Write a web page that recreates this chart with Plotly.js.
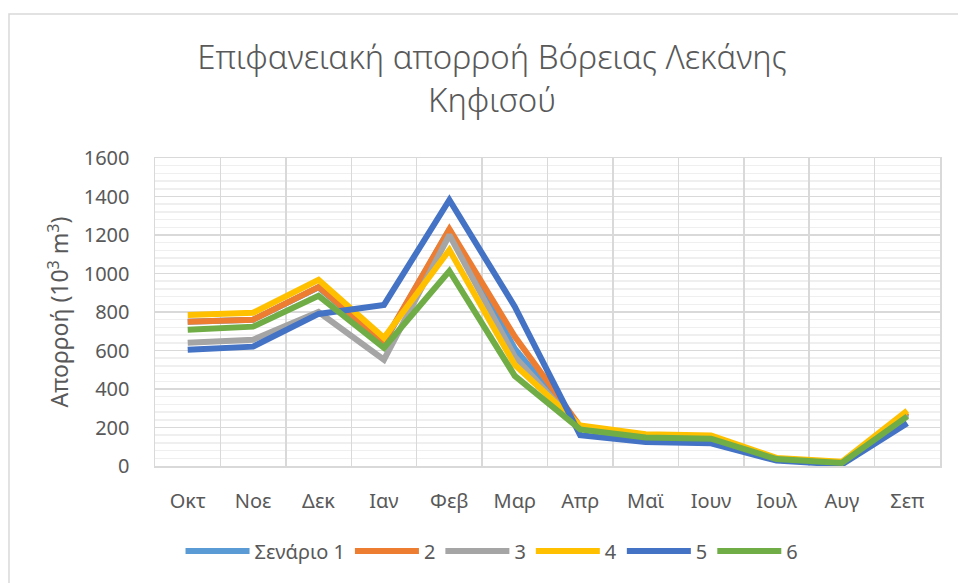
<!DOCTYPE html>
<html>
<head>
<meta charset="utf-8">
<script src="https://cdn.plot.ly/plotly-3.0.1.min.js"></script>
<style>html,body{margin:0;padding:0;background:#fff;}#chart{width:958px;height:583px;}</style>
</head>
<body>
<div id="chart"></div>
<script>
var months = ["Οκτ","Νοε","Δεκ","Ιαν","Φεβ","Μαρ","Απρ","Μαϊ","Ιουν","Ιουλ","Αυγ","Σεπ"];
var seriesNames = ["Σενάριο 1","2","3","4","5","6"];
var s1 = [750, 760, 928, 642, 1228, 610, 200, 156, 148, 36, 16, 272];
var s2 = [750, 760, 930, 645, 1231, 672, 205, 160, 152, 38, 18, 278];
var s3 = [640, 656, 800, 552, 1200, 568, 195, 152, 145, 35, 16, 265];
var s4 = [785, 796, 967, 666, 1122, 526, 210, 165, 158, 42, 22, 288];
var s5 = [604, 620, 790, 837, 1382, 828, 160, 125, 118, 28, 8, 222];
var s6 = [708, 724, 884, 614, 1013, 468, 190, 148, 142, 36, 16, 258];
var seriesValues = [s1, s2, s3, s4, s5, s6];
var colors = ["#5B9BD5","#ED7D31","#A5A5A5","#FFC000","#4472C4","#70AD47"];

var FONT = "Noto Sans, sans-serif";
var TXT = "#595959";

var traces = seriesValues.map(function(v, i){
  return {
    type: "scatter", mode: "lines", x: months, y: v, name: seriesNames[i],
    line: {color: colors[i], width: 6},
    hoverinfo: "skip"
  };
});

var layout = {
  width: 958, height: 583,
  margin: {l: 155, r: 18, t: 158, b: 117},
  paper_bgcolor: "#ffffff", plot_bgcolor: "#ffffff",
  font: {family: FONT, color: TXT, size: 20},
  title: {
    text: "Επιφανειακή απορροή Βόρειας Λεκάνης<br>Κηφισού",
    font: {family: FONT, size: 33, color: TXT, weight: 300},
    xref: "container", x: 0.5136, xanchor: "center",
    yref: "container", y: 0.882, yanchor: "middle"
  },
  xaxis: {
    type: "category", tickson: "boundaries", range: [-0.5, 11.5],
    showgrid: true, gridcolor: "#d9d9d9", gridwidth: 1.5,
    showline: true, linecolor: "#d9d9d9", linewidth: 1.5, mirror: true,
    ticks: "", ticklabelstandoff: 16,
    tickfont: {family: FONT, size: 20, color: TXT},
    fixedrange: true
  },
  yaxis: {
    range: [0, 1600], dtick: 200, tick0: 0,
    showgrid: true, gridcolor: "#d9d9d9", gridwidth: 1.5,
    minor: {dtick: 40, showgrid: true, gridcolor: "#efefef", gridwidth: 1.5},
    zeroline: false,
    showline: true, linecolor: "#d9d9d9", linewidth: 1.5, mirror: true,
    ticks: "", ticklabelstandoff: 20,
    tickfont: {family: FONT, size: 20, color: TXT},
    title: {text: "Απορροή (10<sup>3</sup> m<sup>3</sup>)", font: {family: FONT, size: 23, color: TXT}, standoff: 8},
    fixedrange: true
  },
  showlegend: true,
  legend: {
    orientation: "h",
    xref: "container", x: 0.5136, xanchor: "center",
    yref: "container", y: 0.055, yanchor: "middle",
    font: {family: FONT, size: 20, color: TXT},
    itemwidth: 64, traceorder: "normal",
    bgcolor: "rgba(0,0,0,0)"
  },
  shapes: [{
    type: "rect", xref: "paper", yref: "paper",
    x0: -0.186, x1: 1.5, y0: -1, y1: 1.4675,
    line: {color: "#d9d9d9", width: 1.5}, fillcolor: "rgba(0,0,0,0)", layer: "below"
  }]
};

Plotly.newPlot("chart", traces, layout, {staticPlot: true, displayModeBar: false});
</script>
</body>
</html>
